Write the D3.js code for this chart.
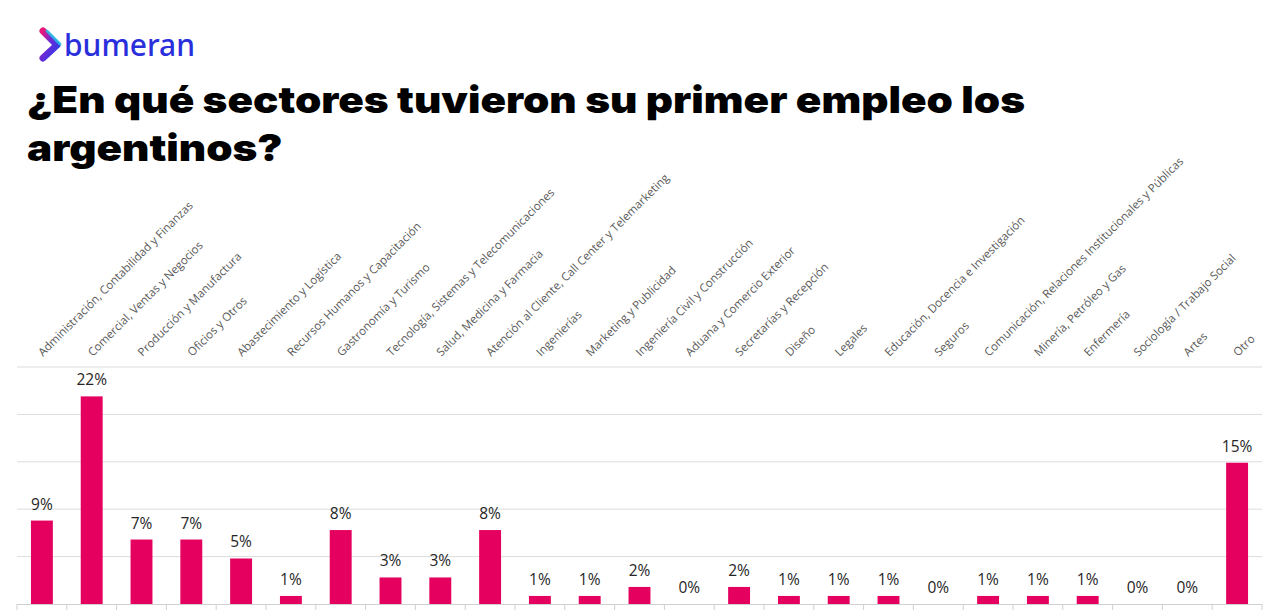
<!DOCTYPE html>
<html>
<head>
<meta charset="utf-8">
<script src="https://cdn.jsdelivr.net/npm/d3@7"></script>
<style>
  body { margin: 0; background: #fff; }
  svg { display: block; }
</style>
</head>
<body>
<svg width="1273" height="616"></svg>
<script>
// Sector names, in chart order
const sectors = [
    "Administración, Contabilidad y Finanzas",
    "Comercial, Ventas y Negocios",
    "Producción y Manufactura",
    "Oficios y Otros",
    "Abastecimiento y Logística",
    "Recursos Humanos y Capacitación",
    "Gastronomía y Turismo",
    "Tecnología, Sistemas y Telecomunicaciones",
    "Salud, Medicina y Farmacia",
    "Atención al Cliente, Call Center y Telemarketing",
    "Ingenierías",
    "Marketing y Publicidad",
    "Ingeniería Civil y Construcción",
    "Aduana y Comercio Exterior",
    "Secretarías y Recepción",
    "Diseño",
    "Legales",
    "Educación, Docencia e Investigación",
    "Seguros",
    "Comunicación, Relaciones Institucionales y Públicas",
    "Minería, Petróleo y Gas",
    "Enfermería",
    "Sociología / Trabajo Social",
    "Artes",
    "Otro"
];
// Bar heights (percent)
const shares = [8.8, 21.9, 6.8, 6.8, 4.8, 0.85, 7.8, 2.8, 2.8, 7.8,
                0.85, 0.85, 1.8, 0.1, 1.8, 0.85, 0.85, 0.85, 0.1, 0.85,
                0.85, 0.85, 0.1, 0.1, 14.9];
// Rounded labels printed above each bar
const shareLabels = ["9%", "22%", "7%", "7%", "5%", "1%", "8%", "3%", "3%", "8%",
                     "1%", "1%", "2%", "0%", "2%", "1%", "1%", "1%", "0%", "1%",
                     "1%", "1%", "0%", "0%", "15%"];
const gridTicks = [5, 10, 15, 20, 25];
const titleLines = ["¿En qué sectores tuvieron su primer empleo los", "argentinos?"];

const svg = d3.select("svg");

// --- logo ---
const defs = svg.append("defs");
const grad = defs.append("linearGradient")
    .attr("id", "chev")
    .attr("x1", "0").attr("y1", "0").attr("x2", "1").attr("y2", "1");
grad.append("stop").attr("offset", "0%").attr("stop-color", "#e8197d");
grad.append("stop").attr("offset", "45%").attr("stop-color", "#6a2ad8");
grad.append("stop").attr("offset", "100%").attr("stop-color", "#2b3be6");

svg.append("path")
    .attr("d", "M43,31 L57,45 L43,58")
    .attr("fill", "none")
    .attr("stroke", "url(#chev)")
    .attr("stroke-width", 7)
    .attr("stroke-linecap", "round")
    .attr("stroke-linejoin", "round");
svg.append("path")
    .attr("d", "M47,31 L60,44")
    .attr("fill", "none")
    .attr("stroke", "#22c4e8")
    .attr("stroke-width", 3)
    .attr("stroke-linecap", "round")
    .attr("opacity", 0.8);

svg.append("text")
    .attr("x", 64)
    .attr("y", 56)
    .attr("font-family", "'Noto Sans', sans-serif")
    .attr("font-size", 30)
    .attr("font-weight", 500)
    .attr("fill", "#2a2fdc")
    .attr("textLength", 131)
    .attr("lengthAdjust", "spacingAndGlyphs")
    .text("bumeran");

// --- title ---
const title = svg.append("text")
    .attr("font-family", "Inter, Lato, sans-serif")
    .attr("font-weight", 900)
    .attr("font-size", 37)
    .attr("fill", "#000");
const tspans = title.selectAll("tspan")
    .data(titleLines)
    .join("tspan")
    .attr("x", 27)
    .attr("y", (d, i) => 113 + i * 48)
    .text(d => d);
// fit the first line to the reference's width
const natural = tspans.nodes().map(n => n.getComputedTextLength());
const ratio = 998 / natural[0];
tspans
    .attr("textLength", (d, i) => natural[i] * ratio)
    .attr("lengthAdjust", "spacingAndGlyphs");

// --- chart ---
const plotLeft = 17, plotRight = 1262, plotTop = 367, plotBottom = 604;

const x = d3.scaleBand()
    .domain(sectors)
    .range([plotLeft, plotRight])
    .paddingInner(0.56)
    .paddingOuter(0.28);

const y = d3.scaleLinear()
    .domain([0, 25])
    .range([plotBottom, plotTop]);

// gridlines
svg.append("g")
    .selectAll("line")
    .data(gridTicks)
    .join("line")
    .attr("x1", plotLeft)
    .attr("x2", plotRight)
    .attr("y1", d => y(d))
    .attr("y2", d => y(d))
    .attr("stroke", "#dcdcdc")
    .attr("stroke-width", 1);

// x axis line with boundary ticks
const step = (plotRight - plotLeft) / sectors.length;
const axis = svg.append("g");
axis.append("line")
    .attr("x1", plotLeft).attr("x2", plotRight)
    .attr("y1", plotBottom + 0.5).attr("y2", plotBottom + 0.5)
    .attr("stroke", "#d0d0d0");
axis.selectAll(".tick")
    .data(d3.range(sectors.length + 1))
    .join("line")
    .attr("class", "tick")
    .attr("x1", i => plotLeft + i * step)
    .attr("x2", i => plotLeft + i * step)
    .attr("y1", plotBottom)
    .attr("y2", plotBottom + 6)
    .attr("stroke", "#d0d0d0");

// bars
svg.append("g")
    .selectAll("rect")
    .data(sectors)
    .join("rect")
    .attr("x", d => x(d))
    .attr("width", x.bandwidth())
    .attr("y", (d, i) => y(shares[i]))
    .attr("height", (d, i) => plotBottom - y(shares[i]))
    .attr("fill", (d, i) => shareLabels[i] === "0%" ? "none" : "#e5005f");

// value labels
svg.append("g")
    .selectAll("text")
    .data(sectors)
    .join("text")
    .attr("x", d => x(d) + x.bandwidth() / 2)
    .attr("y", (d, i) => y(shareLabels[i] === "0%" ? 0 : shares[i]) - 11)
    .attr("text-anchor", "middle")
    .attr("font-family", "'Open Sans', sans-serif")
    .attr("font-size", 15.5)
    .attr("fill", "#262626")
    .text((d, i) => shareLabels[i]);

// rotated category labels above the plot
svg.append("g")
    .selectAll("text")
    .data(sectors)
    .join("text")
    .attr("transform", d => `translate(${x(d) + x.bandwidth() / 2 + 1},357) rotate(-45)`)
    .attr("font-family", "'Open Sans', sans-serif")
    .attr("font-size", 11.5)
    .attr("fill", "#595959")
    .text(d => d);
</script>
</body>
</html>
